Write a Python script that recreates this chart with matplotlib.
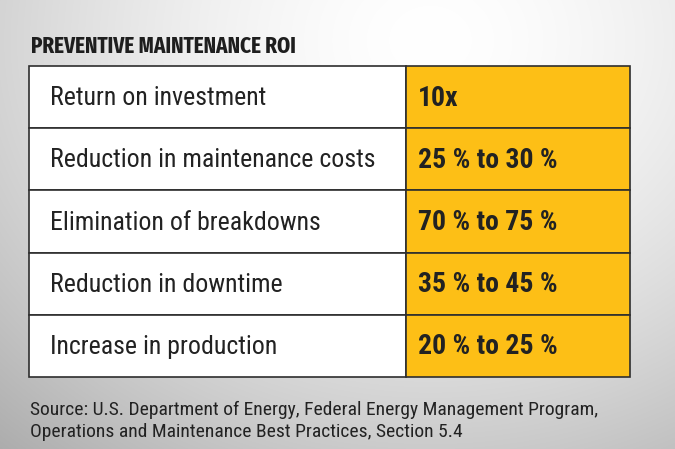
import numpy as np
import matplotlib
matplotlib.use('Agg')
import matplotlib.pyplot as plt
from matplotlib.patches import Rectangle

TITLE = 'PREVENTIVE MAINTENANCE ROI'
metrics = ['Return on investment', 'Reduction in maintenance costs',
           'Elimination of breakdowns', 'Reduction in downtime',
           'Increase in production']
values = ['10x', '25 % to 30 %', '70 % to 75 %', '35 % to 45 %', '20 % to 25 %']
source = ('Source: U.S. Department of Energy, Federal Energy Management Program,\n'
          'Operations and Maintenance Best Practices, Section 5.4')

plt.rcParams['font.family'] = ['Roboto Condensed', 'DejaVu Sans']

W, H = 675, 449
fig = plt.figure(figsize=(W / 100, H / 100), dpi=100)
ax = fig.add_axes([0, 0, 1, 1])
ax.set_xlim(0, W)
ax.set_ylim(H, 0)
ax.axis('off')

# soft radial background
yy, xx = np.mgrid[0:H, 0:W]
d = np.hypot((xx - 430) / 620, (yy - 40) / 520)
bg = np.clip(1.0 - 0.30 * d ** 1.6, 0, 1)
ax.imshow(np.dstack([bg, bg, bg]), extent=(0, W, H, 0), zorder=0)

ax.text(31, 46, TITLE, fontsize=16.5, fontweight='bold', color='#1e1e1e',
        va='center', ha='left',
        family=['Fira Sans Extra Condensed', 'Roboto Condensed', 'DejaVu Sans'])

left, split, right = 29, 406, 630
top, row_h = 66, 62.2
edge = '#2e2e2e'
for i, (m, v) in enumerate(zip(metrics, values)):
    y0 = top + i * row_h
    ax.add_patch(Rectangle((left, y0), split - left, row_h, facecolor='white',
                           edgecolor=edge, lw=1.2, zorder=2))
    ax.add_patch(Rectangle((split, y0), right - split, row_h, facecolor='#fdbf16',
                           edgecolor=edge, lw=1.2, zorder=2))
    ax.text(50, y0 + row_h / 2 + 1, m, fontsize=18.6, color='#222222',
            va='center', ha='left', zorder=3)
    ax.text(418, y0 + row_h / 2 + 1, v, fontsize=20, fontweight='bold',
            color='#222222', va='center', ha='left', zorder=3)

ax.text(30, 421, source, fontsize=14, color='#222222', va='center',
        ha='left', linespacing=1.3)

fig.savefig('out.png', dpi=100)
